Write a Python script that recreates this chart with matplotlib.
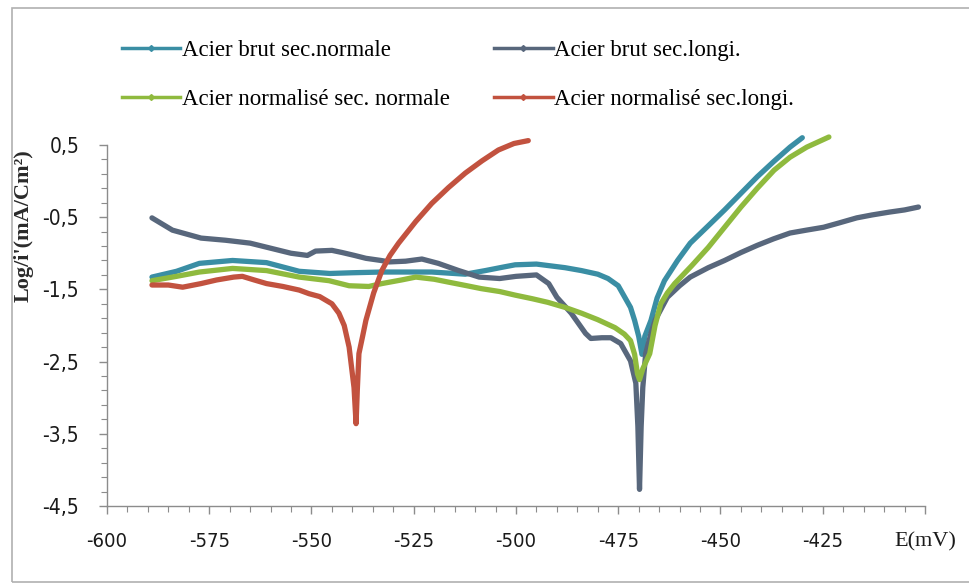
import numpy as np
import matplotlib.pyplot as plt
from matplotlib.lines import Line2D
from matplotlib.patches import Rectangle
from matplotlib.ticker import FixedLocator, FuncFormatter

# (E en mV, log i)
brut_normale = [(-589, -1.33), (-583, -1.25), (-577.4, -1.14), (-569.3, -1.10), (-561, -1.13),
                (-553, -1.25), (-545.5, -1.28), (-540, -1.27), (-532.8, -1.26), (-526, -1.26),
                (-520.6, -1.26), (-512.4, -1.29), (-507.5, -1.24), (-503, -1.19), (-500.2, -1.16),
                (-495, -1.15), (-492.2, -1.17), (-488, -1.20), (-484, -1.24), (-480, -1.29),
                (-477.5, -1.35), (-475, -1.45), (-473.4, -1.61), (-472, -1.75), (-471, -1.93),
                (-470, -2.15), (-469.2, -2.40), (-468.5, -2.15), (-467, -1.93), (-465.5, -1.62),
                (-463.7, -1.38), (-460.5, -1.10), (-457.4, -0.86), (-453, -0.62), (-449, -0.40),
                (-445, -0.17), (-441, 0.06), (-437, 0.27), (-433, 0.47), (-430, 0.60)]

brut_longi = [(-589, -0.51), (-584, -0.68), (-577, -0.79), (-571, -0.82), (-565, -0.86),
              (-560, -0.93), (-555, -1.00), (-551, -1.03), (-549, -0.97), (-545, -0.96),
              (-542.5, -0.99), (-539.5, -1.03), (-536.7, -1.07), (-533, -1.10), (-531, -1.12),
              (-527, -1.11), (-523, -1.08), (-519, -1.14), (-514, -1.24), (-509, -1.33),
              (-504, -1.35), (-500, -1.32), (-495, -1.30), (-492, -1.42), (-490, -1.61),
              (-486.5, -1.83), (-483, -2.11), (-481.7, -2.18), (-479, -2.17), (-476.8, -2.17),
              (-474.4, -2.25), (-472, -2.49), (-470.7, -2.80), (-470.2, -3.40), (-469.8, -4.27),
              (-469.4, -3.40), (-469, -2.86), (-468.3, -2.39), (-467, -2.11), (-466, -1.93),
              (-463, -1.61), (-460, -1.45), (-457.4, -1.33), (-453, -1.20), (-449, -1.10),
              (-445, -0.99), (-441, -0.89), (-437, -0.80), (-433, -0.72), (-429, -0.68),
              (-424.8, -0.64), (-421, -0.58), (-416.7, -0.51), (-413, -0.47), (-408.7, -0.43),
              (-405, -0.40), (-401.6, -0.36)]

norm_normale = [(-589, -1.38), (-583, -1.32), (-577.4, -1.26), (-569.3, -1.21), (-561, -1.24),
                (-553, -1.33), (-545.7, -1.38), (-540.8, -1.45), (-536, -1.46), (-532.8, -1.42),
                (-528, -1.37), (-524.5, -1.33), (-520, -1.36), (-516.5, -1.40), (-512, -1.45),
                (-508.5, -1.49), (-504, -1.53), (-500.2, -1.58), (-496, -1.63), (-492.2, -1.68),
                (-488, -1.75), (-484, -1.83), (-480, -1.92), (-475.8, -2.03), (-473.5, -2.12),
                (-472, -2.21), (-471, -2.40), (-470.3, -2.67), (-469.8, -2.75), (-469, -2.60),
                (-467.3, -2.39), (-466, -2.00), (-464.6, -1.70), (-463, -1.55), (-461.2, -1.42),
                (-457, -1.17), (-453, -0.92), (-449, -0.64), (-445, -0.36), (-441, -0.10),
                (-436.9, 0.15), (-433, 0.33), (-428.9, 0.47), (-423.5, 0.61)]

norm_longi = [(-589, -1.44), (-585, -1.44), (-581.5, -1.47), (-577, -1.42), (-573.2, -1.37),
              (-569, -1.33), (-566.9, -1.32), (-564, -1.37), (-561, -1.42), (-557, -1.46),
              (-553, -1.51), (-550.6, -1.56), (-548, -1.60), (-546.5, -1.65), (-545, -1.70),
              (-543.3, -1.83), (-542, -2.00), (-540.8, -2.30), (-539.6, -2.86), (-539.1, -3.36),
              (-538.8, -2.90), (-538.4, -2.39), (-537.5, -2.15), (-536.7, -1.93), (-534.8, -1.55),
              (-532.8, -1.24), (-530.8, -1.03), (-528.7, -0.86), (-524.5, -0.56), (-520.6, -0.31),
              (-516.5, -0.09), (-512.4, 0.11), (-508.3, 0.28), (-504.3, 0.43), (-500.5, 0.52),
              (-497, 0.56)]

labels = ['Acier brut sec.normale', 'Acier brut sec.longi.',
          'Acier normalisé sec. normale', 'Acier normalisé sec.longi.']
colors = ['#3a8ea4', '#58677c', '#8fba3e', '#c2523f']
series = [brut_normale, brut_longi, norm_normale, norm_longi]

x_ticks = [-600, -575, -550, -525, -500, -475, -450, -425, -400]
y_ticks = [0.5, -0.5, -1.5, -2.5, -3.5, -4.5]

fig = plt.figure(figsize=(9.69, 5.88), dpi=100)
ax = fig.add_axes([0.1104, 0.1395, 0.8442, 0.614])

for pts, c in zip(series, colors):
    d = np.array(pts)
    ax.plot(d[:, 0], d[:, 1], color=c, lw=3.8, solid_joinstyle='round',
            solid_capstyle='round', clip_on=False)

ax.set_xlim(-600, -400)
ax.set_ylim(-4.5, 0.5)

for s in ['top', 'right']:
    ax.spines[s].set_visible(False)
for s in ['left', 'bottom']:
    ax.spines[s].set_color('#8c8c8c')
    ax.spines[s].set_linewidth(1.0)

ax.xaxis.set_major_locator(FixedLocator(x_ticks))
ax.xaxis.set_minor_locator(FixedLocator(np.arange(-600, -399, 5)))
ax.yaxis.set_major_locator(FixedLocator(y_ticks))
ax.yaxis.set_minor_locator(FixedLocator(np.arange(-4.5, 0.51, 0.2)))

ax.xaxis.set_major_formatter(FuncFormatter(lambda v, p: '' if v == -400 else f'{v:.0f}'))
ax.yaxis.set_major_formatter(FuncFormatter(lambda v, p: f'{v:.1f}'.replace('.', ',')))

ax.tick_params(axis='both', which='major', direction='out', length=6, width=1,
               color='#8c8c8c', labelcolor='#1a1a1a')
ax.tick_params(axis='both', which='minor', direction='out', length=4, width=0.8,
               color='#8c8c8c')
ax.tick_params(axis='x', which='major', pad=13, labelsize=14.5)
ax.tick_params(axis='y', which='major', pad=14, labelsize=15)
for t in ax.get_xticklabels() + ax.get_yticklabels():
    t.set_family('DejaVu Sans')
    t.set_stretch('condensed')

ax.annotate('E(mV)', xy=(-400, -4.5), xytext=(0, -19), textcoords='offset points',
            ha='center', va='top', fontsize=16, family='Liberation Serif',
            color='#1a1a1a', annotation_clip=False)

fig.text(0.024, 1 - 226 / 588, "Log/i'(mA/Cm²)", rotation=90, ha='center', va='center',
         fontsize=16, fontweight='bold', family='Liberation Serif', color='#2a2a2a')

# legende sur deux colonnes, ordre ligne par ligne
handles = [Line2D([], [], color=c, lw=2.5, marker='D', markersize=3) for c in colors]
order = [0, 2, 1, 3]
fig.legend([handles[i] for i in order], [labels[i] for i in order], ncol=2,
           loc='upper left', bbox_to_anchor=(122 / 969, 1 - 40 / 588),
           frameon=False, handlelength=2.55, handletextpad=0.05, columnspacing=1.95,
           labelspacing=1.22, borderaxespad=0, borderpad=0,
           prop={'family': 'Liberation Serif', 'size': 16.5})

fig.patches.append(Rectangle((12 / 969, 6 / 588), 1.2, 1 - 14 / 588, transform=fig.transFigure,
                             fill=False, edgecolor='#b0b0b0', lw=1.2))

fig.savefig('out.png', dpi=100, facecolor='white')
